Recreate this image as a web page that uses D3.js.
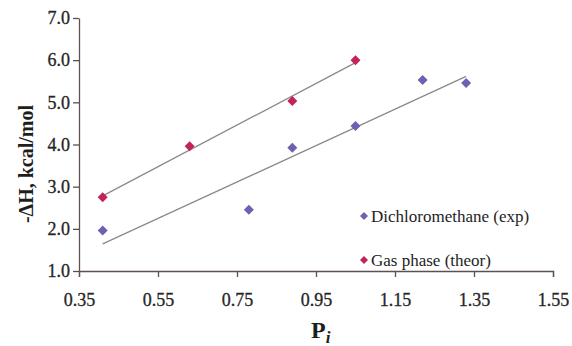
<!DOCTYPE html>
<html><head><meta charset="utf-8">
<script src="https://cdn.jsdelivr.net/npm/d3@7"></script>
<style>
body{margin:0;background:#fff;}
svg, svg text{font-family:"Liberation Serif","Times New Roman",serif !important;}
</style></head>
<body>
<script>
const xTicks = [0.35, 0.55, 0.75, 0.95, 1.15, 1.35, 1.55];
const yTicks = [1.0, 2.0, 3.0, 4.0, 5.0, 6.0, 7.0];
const dcmX = [0.41, 0.78, 0.89, 1.05, 1.22, 1.33];
const dcmY = [1.96, 2.45, 3.92, 4.44, 5.53, 5.46];
const gasX = [0.41, 0.63, 0.89, 1.05];
const gasY = [2.75, 3.96, 5.03, 6.00];
const seriesNames = ["Dichloromethane (exp)", "Gas phase (theor)"];
const seriesColors = ["#6a62b2", "#c4225a"];

const W = 572, H = 346;
const svg = d3.select("body").append("svg").attr("width", W).attr("height", H);
const x = d3.scaleLinear().domain([0.35, 1.55]).range([79, 553]);
const y = d3.scaleLinear().domain([1, 7]).range([271, 18]);

const axisColor = "#5e5050";
const gx = svg.append("g").attr("transform", "translate(0,271)")
  .call(d3.axisBottom(x).tickValues(xTicks).tickFormat(d3.format(".2f")).tickSize(6).tickSizeOuter(6));
const gy = svg.append("g").attr("transform", "translate(79,0)")
  .call(d3.axisLeft(y).tickValues(yTicks).tickFormat(d3.format(".1f")).tickSize(6).tickSizeOuter(0));
[gx, gy].forEach(g => {
  g.attr("font-family", null).attr("font-size", null);
  g.select(".domain").attr("stroke", axisColor).attr("stroke-width", 1.3);
  g.selectAll(".tick line").attr("stroke", axisColor).attr("stroke-width", 1.3);
  g.selectAll("text").attr("fill", "#262626").style("font-size", "18px")
   .style("stroke", "#262626").style("stroke-width", "0.3px");
});
gx.selectAll("text").attr("dy", "1.45em");
gy.selectAll("text").attr("x", -9);

function regression(xs, ys) {
  const n = xs.length, mx = d3.mean(xs), my = d3.mean(ys);
  let sxy = 0, sxx = 0;
  for (let i = 0; i < n; i++) { sxy += (xs[i]-mx)*(ys[i]-my); sxx += (xs[i]-mx)**2; }
  const b = sxy/sxx, a = my - b*mx;
  const x0 = d3.min(xs), x1 = d3.max(xs);
  return [[x0, a+b*x0], [x1, a+b*x1]];
}
const line = d3.line().x(d => x(d[0])).y(d => y(d[1]));
[[dcmX, dcmY], [gasX, gasY]].forEach(([xs, ys]) => {
  svg.append("path").attr("d", line(regression(xs, ys)))
    .attr("stroke", "#8a8a8a").attr("stroke-width", 1.3).attr("fill", "none");
});

const diamond = "M0,-5L5,0L0,5L-5,0Z";
[[dcmX, dcmY, 0], [gasX, gasY, 1]].forEach(([xs, ys, k]) => {
  svg.append("g").selectAll("path").data(xs.map((v, i) => [v, ys[i]])).join("path")
    .attr("d", diamond)
    .attr("transform", d => `translate(${x(d[0])},${y(d[1])})`)
    .attr("fill", seriesColors[k]);
});

// legend
const leg = svg.append("g");
seriesNames.forEach((name, i) => {
  const yy = 216 + i * 44;
  leg.append("path").attr("d", "M0,-4L4,0L0,4L-4,0Z")
    .attr("transform", `translate(364,${yy})`).attr("fill", seriesColors[i]);
  leg.append("text").attr("x", 371).attr("y", yy).attr("dy", "0.35em")
    .style("font-size", "17px").attr("fill", "#1e1e1e").text(name);
});

// y axis label
svg.append("text").attr("transform", "translate(33,164) rotate(-90)")
  .attr("text-anchor", "middle").style("font-size", "20px").style("font-weight", "bold")
  .attr("fill", "#1e1e1e").text("-ΔH, kcal/mol");

// x axis label
const xl = svg.append("text").attr("x", 311).attr("y", 338)
  .style("font-size", "24px").style("font-weight", "bold").attr("fill", "#1e1e1e");
xl.append("tspan").text("P");
xl.append("tspan").attr("dy", 5).style("font-size", "17px").style("font-style", "italic").text("i");
</script>
</body></html>
